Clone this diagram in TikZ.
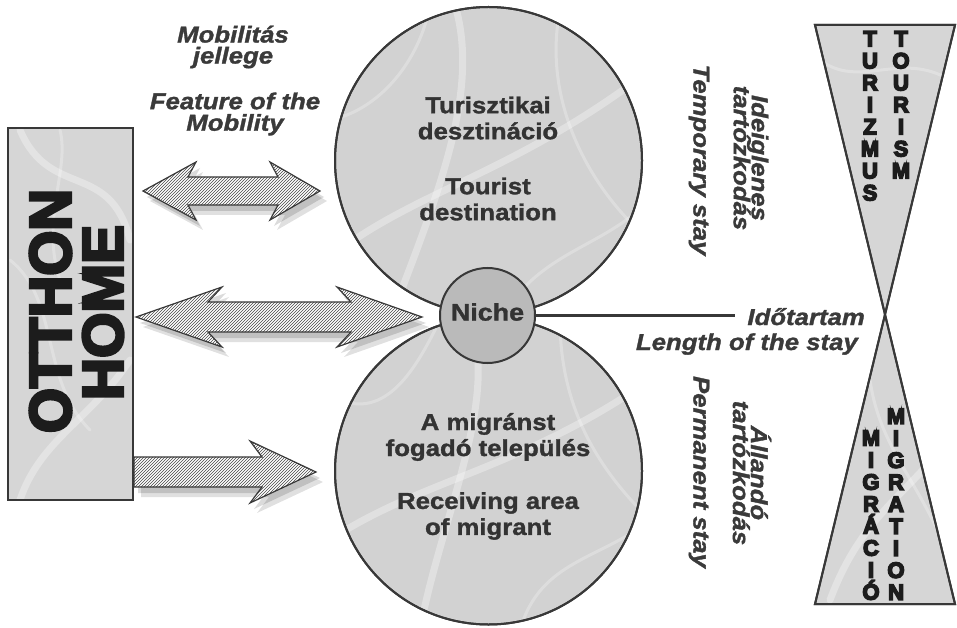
\documentclass[tikz,border=0pt]{standalone}
\usepackage{fontspec}
\usetikzlibrary{patterns,shadows,calc}
\setmainfont{Liberation Sans}[FakeStretch=1.12, FakeBold=1.4]
\newfontfamily\heavy{Liberation Sans}[UprightFont={* Bold}, FakeBold=7]
\newfontfamily\heavyb{Liberation Sans}[UprightFont={* Bold}, FakeBold=5]
\definecolor{cfill}{HTML}{D2D2D2}
\definecolor{nfill}{HTML}{BABABA}
\definecolor{hfill}{HTML}{D6D6D6}
\definecolor{edge}{HTML}{383838}
\definecolor{txt}{HTML}{3A3A3A}
\definecolor{ink}{HTML}{1C1C1C}
\lineskiplimit=-100pt
\lineskip=0pt
\tikzset{
  disc/.style={circle, draw=edge, line width=2pt, fill=cfill, inner sep=0pt},
  blockarrow/.style={draw=edge, line width=1.2pt, line join=miter,
    drop shadow={shadow xshift=4pt, shadow yshift=-6pt, opacity=0.14, fill=black},
    drop shadow={shadow xshift=7pt, shadow yshift=-10pt, opacity=0.12, fill=black},
    preaction={fill=white}, pattern=north east lines, pattern color=black!72},
  lbl/.style={font=\fontsize{23}{18}\selectfont\bfseries\itshape, text=txt, align=center, inner sep=0pt},
  ctext/.style={font=\fontsize{23}{26}\selectfont\bfseries, text=ink!90, align=center, inner sep=0pt},
  stack/.style={font=\heavy\fontsize{22}{22}\selectfont, text=ink, align=center, inner sep=0pt},
  shapeline/.style={draw=edge, line width=2pt, line join=miter},
  vein/.style={draw=white, opacity=0.32, line width=7pt, line cap=round},
  thinvein/.style={draw=white, opacity=0.26, line width=3pt, line cap=round},
}
\begin{document}
\begin{tikzpicture}[x=1pt,y=-1pt]
\useasboundingbox (0,0) rectangle (957,628);

% home box
\node[draw=edge, line width=2pt, fill=hfill, minimum width=125pt, minimum height=372pt, inner sep=0pt] (home) at (70.5,314) {};
\begin{scope}
  \clip (home.north west) rectangle (home.south east);
  \draw[vein] (20,130) .. controls (50,200) and (110,160) .. (130,240);
  \draw[thinvein] (10,260) .. controls (60,300) and (40,380) .. (90,430);
  \draw[vein] (130,360) .. controls (90,420) and (40,440) .. (20,500);
  \draw[thinvein] (60,130) .. controls (70,170) and (40,220) .. (60,280);
\end{scope}
\node[draw=edge, line width=2pt, minimum width=125pt, minimum height=372pt, inner sep=0pt] (homeframe) at (home.center) {};
\node[rotate=90, inner sep=0pt, text=ink] (otthon) at (50.5,311) {\resizebox{244pt}{41pt}{\heavyb OTTHON}};
\node[rotate=90, inner sep=0pt, text=ink] (homelbl) at (103,312.5) {\resizebox{175pt}{40pt}{\heavyb HOME}};

% hatched block arrows
\draw[blockarrow] (143,191) -- (196,162) -- (188,177) -- (278,177) -- (270,162) -- (320,191)
  -- (270,220) -- (278,205) -- (188,205) -- (196,220) -- cycle;
\draw[blockarrow] (136,317) -- (222,287) -- (208,302) -- (351,302) -- (337,287) -- (422,317)
  -- (337,347) -- (351,332) -- (208,332) -- (222,347) -- cycle;
\draw[blockarrow] (home.east |- 0,457) -- (262,457) -- (250,441) -- (316,472) -- (250,503)
  -- (262,487) -- (home.east |- 0,487) -- cycle;

% circles
\node[disc, minimum size=307pt] (tourist) at (488.5,160.5) {};
\begin{scope}
  \clip (tourist.center) circle (152);
  \draw[vein] (340,250) .. controls (420,190) and (520,170) .. (650,70);
  \draw[vein] (455,5) .. controls (480,90) and (440,190) .. (390,320);
  \draw[thinvein] (560,10) .. controls (540,110) and (600,200) .. (650,240);
  \draw[thinvein] (330,120) .. controls (380,110) and (420,60) .. (430,5);
  \draw[thinvein] (500,320) .. controls (540,250) and (600,250) .. (650,200);
\end{scope}
\node[disc, fill=none, minimum size=307pt] (tourframe) at (tourist.center) {};
\node[disc, minimum size=307pt] (receive) at (488.5,471) {};
\begin{scope}
  \clip (receive.center) circle (152);
  \draw[vein] (330,540) .. controls (420,480) and (520,470) .. (650,380);
  \draw[vein] (470,320) .. controls (500,400) and (440,520) .. (420,630);
  \draw[thinvein] (560,320) .. controls (560,420) and (610,480) .. (650,520);
  \draw[thinvein] (340,400) .. controls (390,420) and (420,360) .. (440,320);
  \draw[thinvein] (520,630) .. controls (540,560) and (600,560) .. (650,520);
\end{scope}
\node[disc, fill=none, minimum size=307pt] (recframe) at (receive.center) {};
\node[disc, fill=nfill, minimum size=95pt] (niche) at (487.5,315.5) {};
\node[font=\fontsize{24}{26}\selectfont\bfseries, text=ink!90, inner sep=0pt] (nichelbl) at (487.5,312) {Niche};

\node[ctext] (tur) at (488,118) {Turisztikai\\desztináció};
\node[ctext] (tdest) at (488,199) {Tourist\\destination};
\node[ctext] (migr) at (488,437) {A migránst\\fogadó település};
\node[ctext] (recv) at (488,516) {Receiving area\\of migrant};

% length line
\coordinate (lineend) at (735,315.5);
\draw[edge, line width=3pt] (niche.east) -- (lineend);
\node[lbl, anchor=base east] (ido) at (865,325) {Időtartam};
\node[lbl, anchor=base east] (length) at (858,350) {Length of the stay};

% top-left labels
\node[lbl, font=\fontsize{23}{21}\selectfont\bfseries\itshape] (mob) at (233,47) {Mobilitás\\jellege};
\node[lbl, font=\fontsize{23}{21.5}\selectfont\bfseries\itshape] (feat) at (235,114) {Feature of the\\Mobility};

% rotated labels
\node[lbl, rotate=-90] (temp) at (699,160) {Temporary stay};
\node[lbl, rotate=-90] (ideig) at (751,158) {Ideiglenes\\tartózkodás};
\node[lbl, rotate=-90] (perm) at (699,472) {Permanent stay};
\node[lbl, rotate=-90] (alland) at (752,473) {Állandó\\tartózkodás};

% hourglass
\coordinate (tl) at (815,25);
\coordinate (tr) at (955,25);
\coordinate (bl) at (815,604);
\coordinate (br) at (955,604);
\coordinate (xc) at (885,314.5);
\draw[shapeline, fill=hfill] (tl) -- (tr) -- (xc) -- cycle;
\draw[shapeline, fill=hfill] (bl) -- (br) -- (xc) -- cycle;
\begin{scope}
  \clip (tl) -- (tr) -- (xc) -- cycle (bl) -- (br) -- (xc) -- cycle;
  \draw[thinvein] (820,60) .. controls (860,90) and (900,50) .. (950,80);
  \draw[vein] (940,450) .. controls (900,500) and (860,520) .. (830,600);
  \draw[thinvein] (870,380) .. controls (880,450) and (920,480) .. (950,560);
\end{scope}
\draw[shapeline] (tl) -- (tr) -- (xc) -- cycle;
\draw[shapeline] (bl) -- (br) -- (xc) -- cycle;

\node[stack, anchor=north] (turizmus) at (870,31) {T\\U\\R\\I\\Z\\M\\U\\S};
\node[stack, anchor=north] (tourism) at (901,31) {T\\O\\U\\R\\I\\S\\M};
\node[stack, anchor=south] (migracio) at (871,600) {M\\I\\G\\R\\Á\\C\\I\\Ó};
\node[stack, anchor=south] (migration) at (896,600) {M\\I\\G\\R\\A\\T\\I\\O\\N};
\end{tikzpicture}
\end{document}
